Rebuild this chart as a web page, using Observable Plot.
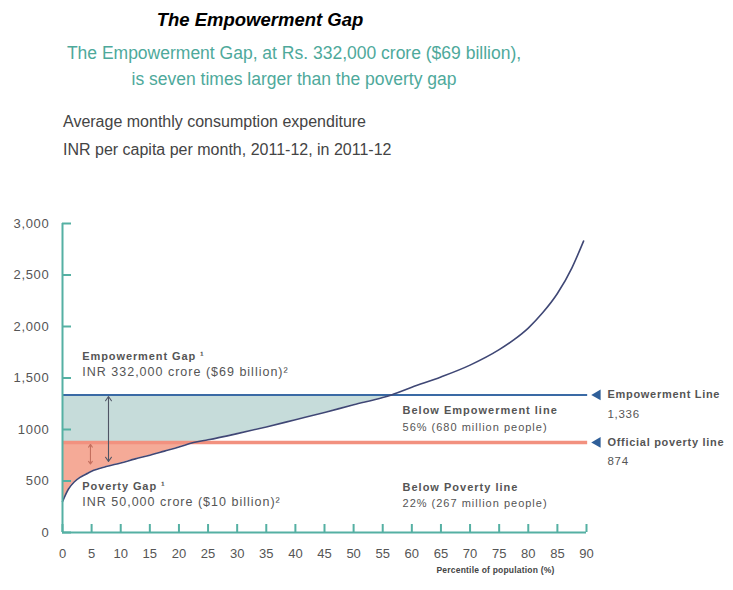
<!DOCTYPE html>
<html><head><meta charset="utf-8">
<script src="https://cdn.jsdelivr.net/npm/d3@7"></script>
<script src="https://cdn.jsdelivr.net/npm/@observablehq/plot@0.6"></script>
<style>
body{margin:0;background:#fff;font-family:"Liberation Sans",Arial,sans-serif;}
#wrap{position:relative;width:733px;height:590px;}
#head{position:relative;height:200px;}
.t{position:absolute;white-space:nowrap;}
#title{left:0;width:520px;text-align:center;top:9px;font-size:18.5px;font-weight:bold;font-style:italic;color:#000;}
#sub{left:0;width:588px;text-align:center;top:41px;font-size:17.5px;line-height:25.5px;color:#4ea99b;}
#desc{left:63px;top:108px;font-size:16px;line-height:28px;color:#444;}
</style></head>
<body><div id="wrap">
<div id="head">
<div class="t" id="title">The Empowerment Gap</div>
<div class="t" id="sub">The Empowerment Gap, at Rs. 332,000 crore ($69 billion),<br>is seven times larger than the poverty gap</div>
<div class="t" id="desc">Average monthly consumption expenditure<br>INR per capita per month, 2011-12, in 2011-12</div>
</div>
<div id="chart"></div>
</div>
<script>
// Data
const percentile  = [0,1,2,3,4,5,7.5,10,12.5,15,17.5,20,22.5,25,30,35,40,45,50,55,56.5,60,65,70,75,77.5,80,82.5,85,87.5,89.5];
const expenditure = [300,420,490,535,565,595,640,675,715,750,790,830,874,900,960,1025,1095,1165,1240,1310,1336,1410,1510,1625,1775,1870,1985,2135,2320,2570,2830];
const empowermentLine = 1336;
const povertyLine = 874;
const yTicks = [0,500,1000,1500,2000,2500,3000];
const yTickLabels = ["0","500","1000","1,500","2,000","2,500","3,000"];
const xTicks = d3.range(0, 91, 5);
const lineLabels = [
  {x: 90, y: empowermentLine, title: "Empowerment Line", value: "1,336", color: "#2f5f99"},
  {x: 90, y: povertyLine, title: "Official poverty line", value: "874", color: "#2f5f99"}
];
const leftBold = [
  {x: 3.4, y: 1705, text: "Empowerment Gap ¹"},
  {x: 3.4, y: 445, text: "Poverty Gap ¹"}
];
const leftPlain = [
  {x: 3.4, y: 1560, text: "INR 332,000 crore ($69 billion)²"},
  {x: 3.4, y: 300, text: "INR 50,000 crore ($10 billion)²"}
];
const rightBold = [
  {x: 58.4, y: 1184, text: "Below Empowerment line"},
  {x: 58.4, y: 437, text: "Below Poverty line"}
];
const rightPlain = [
  {x: 58.4, y: 1022, text: "56% (680 million people)"},
  {x: 58.4, y: 282, text: "22% (267 million people)"}
];
const gapArrows = [
  {x: 7.9, top: 1320, bottom: 690, color: "#4f5565"},
  {x: 4.8, top: 855, bottom: 665, color: "#c46f5e"}
];

const data = percentile.map((p, i) => ({p, v: expenditure[i]}));
const teal = data.filter(d => d.p <= 56.5).map(d => ({p: d.p, lo: Math.max(d.v, povertyLine), hi: empowermentLine}));
const red = data.filter(d => d.p <= 22.5).map(d => ({p: d.p, lo: d.v, hi: povertyLine}));
const arrowSegs = gapArrows.flatMap(a => {
  const mid = (a.top + a.bottom) / 2;
  return [{x: a.x, y1: mid, y2: a.top, color: a.color}, {x: a.x, y1: mid, y2: a.bottom, color: a.color}];
});
const axisColor = "#55b0a3";
const noteFill = "#555";

const chart = Plot.plot({
  width: 733, height: 390,
  marginLeft: 62, marginRight: 147, marginTop: 23, marginBottom: 58,
  style: {fontFamily: "Liberation Sans, Arial, sans-serif", background: "transparent"},
  x: {domain: [0, 90]},
  y: {domain: [0, 3000]},
  marks: [
    Plot.areaY(teal, {x: "p", y1: "lo", y2: "hi", fill: "#c6dcda", curve: "monotone-x"}),
    Plot.areaY(red, {x: "p", y1: "lo", y2: "hi", fill: "#f5aa97", curve: "monotone-x"}),
    Plot.ruleY([empowermentLine], {x1: 0, x2: 90.2, stroke: "#3a6aa5", strokeWidth: 2}),
    Plot.ruleY([povertyLine], {x1: 0, x2: 90.2, stroke: "#f2917f", strokeWidth: 3.5}),
    Plot.line(data, {x: "p", y: "v", stroke: "#3f4775", strokeWidth: 1.6, curve: "monotone-x"}),
    Plot.arrow(arrowSegs, {x1: "x", x2: "x", y1: "y1", y2: "y2", stroke: "color", strokeWidth: 1.1, headLength: 7, headAngle: 70}),
    Plot.ruleX([0], {y1: 0, y2: 3000, stroke: axisColor, strokeWidth: 2}),
    Plot.ruleY([0], {x1: 0, x2: 90, stroke: axisColor, strokeWidth: 2}),
    Plot.axisY({ticks: yTicks, tickSize: -9, tickPadding: 22, stroke: axisColor, strokeWidth: 2,
      tickFormat: d => yTickLabels[yTicks.indexOf(d)], fontSize: 13, color: "#555", label: null}),
    Plot.axisX({ticks: xTicks, tickSize: -8, tickPadding: 24, stroke: axisColor, strokeWidth: 2,
      fontSize: 13, color: "#555", label: null}),
    Plot.dot(lineLabels, {x: "x", y: "y", dx: 11, symbol: "triangle", r: 4, rotate: -90, fill: "color", stroke: null}),
    Plot.text(lineLabels, {x: "x", y: "y", dx: 21, text: "title", textAnchor: "start", fontSize: 11, fontWeight: "bold", fill: noteFill}),
    Plot.text(lineLabels, {x: "x", y: "y", dx: 21, dy: 19, text: "value", textAnchor: "start", fontSize: 11.5, fill: noteFill}),
    Plot.text(leftBold, {x: "x", y: "y", text: "text", textAnchor: "start", fontSize: 11, fontWeight: "bold", fill: noteFill}),
    Plot.text(leftPlain, {x: "x", y: "y", text: "text", textAnchor: "start", fontSize: 12.5, fill: noteFill}),
    Plot.text(rightBold, {x: "x", y: "y", text: "text", textAnchor: "start", fontSize: 11, fontWeight: "bold", fill: noteFill}),
    Plot.text(rightPlain, {x: "x", y: "y", text: "text", textAnchor: "start", fontSize: 11, fill: noteFill}),
    Plot.text(["Percentile of population (%)"], {frameAnchor: "bottom-right", textAnchor: "middle", dx: -91, dy: 40, fontSize: 8.5, fontWeight: "bold", fill: "#444"})
  ]
});
// letter spacing for the annotation groups (Plot has no option for it)
const spacing = [0.7, 0.7, 0.9, 1.0, 1.0, 1.0, 0.2];
const textGroups = chart.querySelectorAll('g[aria-label="text"]');
textGroups.forEach((g, i) => { if (spacing[i] != null) g.style.letterSpacing = spacing[i] + "px"; });
const yLabels = chart.querySelector('g[aria-label="y-axis tick label"]');
if (yLabels) yLabels.style.letterSpacing = "0.7px";
document.getElementById("chart").appendChild(chart);
</script>
</body></html>
